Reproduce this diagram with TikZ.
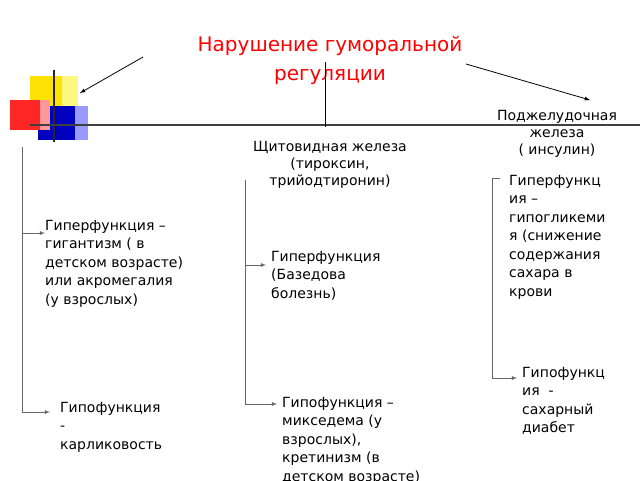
\documentclass[tikz,border=0pt]{standalone}
\usepackage{fontspec}
\setmainfont{DejaVu Sans}
\begin{document}
\begin{tikzpicture}[x=1pt,y=-1pt,
  txt/.style={anchor=north west,align=left,font=\fontsize{14}{18.5}\selectfont,inner sep=0},
  ctr/.style={anchor=north,align=center,font=\fontsize{14}{17}\selectfont,inner sep=0},
  ln/.style={draw=black!60,line width=0.8pt},
  ar/.style={ln,-latex}]
\useasboundingbox (0,0) rectangle (640,480);
\fill[yellow!50] (30,76) rectangle (78,107);
\fill[yellow!85!orange] (30,76) rectangle (62,107);
\fill[blue!40] (38,106) rectangle (88,140);
\fill[blue!75!black] (38,106) rectangle (75,140);
\fill[red!40] (10,100) rectangle (50,130);
\fill[red!85] (10,100) rectangle (40,130);
\draw[black!85,line width=2pt] (54,70) -- (54,142);
\draw[black!75,line width=2pt] (30,125) -- (640,125);
\node[anchor=center,align=center,text=red,font=\fontsize{20}{29}\selectfont] (t) at (330,60) {Нарушение гуморальной\\регуляции};
\coordinate (a1) at (143,57); \coordinate (a1e) at (80,93);
\draw[black,line width=0.8pt,-latex] (a1) -- (a1e);
\coordinate (m1) at (325,62); \coordinate (m2) at (325,127);
\draw[black,line width=1pt] (m1) -- (m2);
\coordinate (r1) at (466,64); \coordinate (r1e) at (590,100);
\draw[black,line width=0.8pt,-latex] (r1) -- (r1e);
\node[ctr] (pz) at (557,110) {Поджелудочная\\железа\\ ( инсулин)};
\node[ctr] (sh) at (330,141) {Щитовидная железа\\(тироксин,\\трийодтиронин)};
\node[txt] (l1) at (45,220) {Гиперфункция –\\гигантизм ( в\\детском возрасте)\\или акромегалия\\(у взрослых)};
\node[txt] (l2) at (60,402) {Гипофункция\\-\\карликовость};
\node[txt] (m3) at (271,251) {Гиперфункция\\(Базедова\\болезнь)};
\node[txt] (m4) at (282,397) {Гипофункция –\\микседема (у\\взрослых),\\кретинизм (в\\детском возрасте)};
\node[txt] (r2) at (509,175) {Гиперфункц\\ия –\\гипогликеми\\я (снижение\\содержания\\сахара в\\крови};
\node[txt] (r3) at (522,367) {Гипофункц\\ия \ -\\сахарный\\диабет};
\coordinate (lt) at (22,147); \coordinate (lb) at (22,412);
\draw[ln] (lt) -- (lb);
\draw[ar] (22,233) -- (l1.west|-0,233);
\draw[ar] (lb) -- ([xshift=-10pt]l2.west|-0,412);
\coordinate (mt) at (245,180); \coordinate (mb) at (245,404);
\draw[ln] (mt) -- (mb);
\draw[ar] (245,265) -- ([xshift=-5pt]m3.west|-0,265);
\draw[ar] (mb) -- ([xshift=-5pt]m4.west|-0,404);
\coordinate (rt) at (492,178); \coordinate (rb) at (492,378);
\draw[ln] (rt) -- (rb);
\draw[ln] (rt) -- (500,178);
\draw[ar] (rb) -- ([xshift=-5pt]r3.west|-0,378);
\end{tikzpicture}
\end{document}
